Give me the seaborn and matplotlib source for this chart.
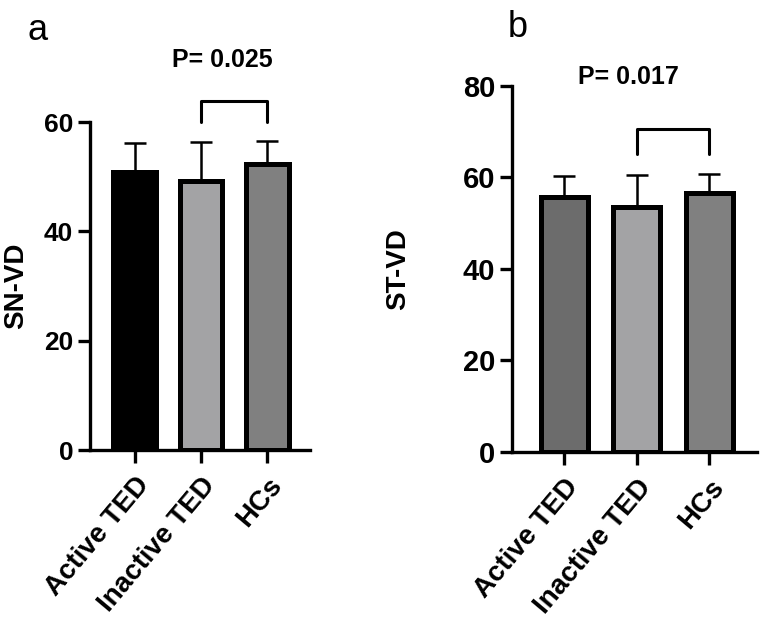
import numpy as np
import matplotlib
matplotlib.use("Agg")
import matplotlib.pyplot as plt
import seaborn as sns

# Data (mean and upper SD)
groups = ["Active TED", "Inactive TED", "HCs"]
sn_vd_mean = [50.8, 49.2, 52.3]
sn_vd_sd = [5.3, 7.1, 4.2]
st_vd_mean = [55.7, 53.6, 56.6]
st_vd_sd = [4.6, 6.9, 4.2]
p_labels = ["P= 0.025", "P= 0.017"]

colors_a = ["#000000", "#a2a2a6", "#808080"]
colors_b = ["#6c6c6c", "#a2a2a6", "#808080"]

sns.set_style("ticks")
plt.rcParams["font.family"] = ["Liberation Sans", "DejaVu Sans"]
plt.rcParams["font.weight"] = "bold"
for key in ["text.color", "axes.labelcolor", "xtick.color", "ytick.color", "axes.edgecolor"]:
    plt.rcParams[key] = "black"


def draw_panel(ax, means, sds, colors, ylabel, ymax, ystep, bracket, ptext, ppos,
               xlim, fsize, labelpad):
    sns.barplot(x=groups, y=means, hue=groups, palette=colors, legend=False,
                width=0.65, edgecolor="black", linewidth=3.6, ax=ax, zorder=3)
    # upper error bars only, drawn behind the bars
    ax.errorbar(np.arange(len(means)), means, yerr=[np.zeros(len(sds)), sds],
                fmt="none", ecolor="black", elinewidth=1.8, capsize=8,
                capthick=1.8, zorder=2)
    ax.set_ylim(0, ymax)
    ax.set_xlim(*xlim)
    ax.set_yticks(np.arange(0, ymax + 1, ystep))
    sns.despine(ax=ax)
    for s in ["left", "bottom"]:
        ax.spines[s].set_linewidth(2.4)
    ax.tick_params(axis="y", width=2.4, length=9, pad=3, labelsize=fsize)
    ax.tick_params(axis="x", width=2.4, length=9, pad=7)
    ax.set_xticks(range(len(groups)))
    ax.set_xticklabels(groups, rotation=50, ha="right", rotation_mode="anchor",
                       fontweight="bold", fontsize=20)
    for t in ax.get_yticklabels():
        t.set_fontweight("bold")
    ax.set_xlabel("")
    ax.set_ylabel(ylabel, fontsize=20, fontweight="bold", labelpad=labelpad)
    # significance bracket between Inactive TED and HCs
    lo, hi = bracket
    ax.plot([1, 1, 2, 2], [lo, hi, hi, lo], color="black", lw=2.2,
            clip_on=False, zorder=4)
    ax.text(ppos[0], ppos[1], ptext, ha="center", va="center", fontsize=18,
            fontweight="bold", clip_on=False)


fig = plt.figure(figsize=(7.68, 6.28), dpi=100)
ax_a = fig.add_axes([0.1172, 0.2834, 0.2865, 0.5223])
ax_b = fig.add_axes([0.6667, 0.2803, 0.3190, 0.5828])

draw_panel(ax_a, sn_vd_mean, sn_vd_sd, colors_a, "SN-VD", 60, 20, (60, 63.8),
           p_labels[0], (1.32, 71.3), (-0.68, 2.65), 19, 11)
draw_panel(ax_b, st_vd_mean, st_vd_sd, colors_b, "ST-VD", 80, 20, (65.1, 70.6),
           p_labels[1], (0.88, 82), (-0.72, 2.66), 21, 37)

fig.text(0.036, 0.936, "a", fontsize=26, fontweight="normal", va="baseline")
fig.text(0.661, 0.941, "b", fontsize=26, fontweight="normal", va="baseline")

fig.savefig("out.png", dpi=100)
